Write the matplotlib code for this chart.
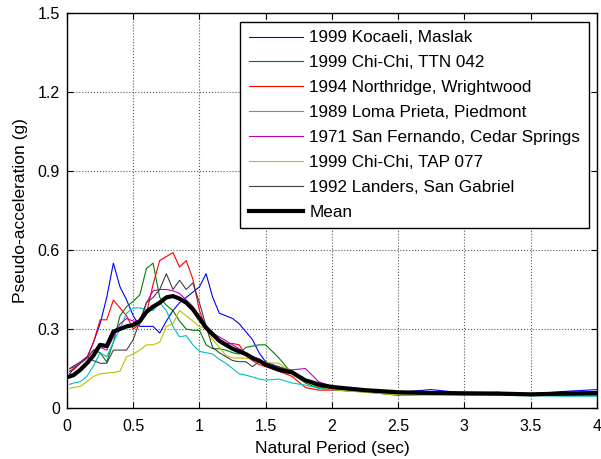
import matplotlib
matplotlib.use("Agg")
import matplotlib.pyplot as plt

plt.rcParams['font.family'] = ['Liberation Sans', 'DejaVu Sans']
plt.rcParams['font.size'] = 11.5

# natural periods (sec)
T = [0.02, 0.05, 0.10, 0.15, 0.20, 0.25, 0.30, 0.35, 0.40, 0.45, 0.50,
     0.55, 0.60, 0.65, 0.70, 0.75, 0.80, 0.85, 0.90, 0.95, 1.00, 1.05,
     1.10, 1.15, 1.20, 1.25, 1.30, 1.35, 1.40, 1.45, 1.50, 1.60, 1.70,
     1.80, 1.90, 2.00, 2.25, 2.50, 2.75, 3.00, 3.25, 3.50, 3.75, 4.00]

kocaeli = [0.13, 0.15, 0.17, 0.19, 0.25, 0.32, 0.42, 0.55, 0.46, 0.41, 0.35,
           0.31, 0.31, 0.31, 0.285, 0.33, 0.37, 0.40, 0.42, 0.44, 0.46, 0.51,
           0.42, 0.36, 0.35, 0.34, 0.32, 0.29, 0.26, 0.21, 0.175, 0.155, 0.14,
           0.105, 0.085, 0.075, 0.065, 0.06, 0.07, 0.057, 0.055, 0.053, 0.063, 0.07]
chichi_ttn = [0.14, 0.15, 0.17, 0.19, 0.22, 0.21, 0.175, 0.25, 0.35, 0.385, 0.405,
              0.43, 0.53, 0.55, 0.42, 0.39, 0.37, 0.33, 0.30, 0.295, 0.295, 0.24,
              0.225, 0.225, 0.22, 0.21, 0.205, 0.23, 0.235, 0.24, 0.24, 0.19, 0.13,
              0.095, 0.075, 0.07, 0.063, 0.058, 0.055, 0.055, 0.055, 0.047, 0.05, 0.052]
northridge = [0.14, 0.145, 0.17, 0.19, 0.25, 0.335, 0.335, 0.41, 0.38, 0.35, 0.30,
              0.32, 0.36, 0.47, 0.56, 0.575, 0.59, 0.535, 0.56, 0.49, 0.37, 0.30,
              0.28, 0.26, 0.245, 0.245, 0.24, 0.20, 0.18, 0.165, 0.157, 0.14, 0.12,
              0.078, 0.068, 0.068, 0.062, 0.048, 0.052, 0.053, 0.06, 0.05, 0.052, 0.05]
loma = [0.09, 0.095, 0.10, 0.12, 0.16, 0.21, 0.195, 0.25, 0.30, 0.36, 0.38,
        0.38, 0.375, 0.37, 0.40, 0.37, 0.31, 0.27, 0.275, 0.24, 0.215, 0.21,
        0.205, 0.185, 0.17, 0.15, 0.13, 0.125, 0.118, 0.11, 0.106, 0.11, 0.095,
        0.087, 0.075, 0.07, 0.06, 0.05, 0.05, 0.05, 0.048, 0.047, 0.045, 0.045]
san_fernando = [0.15, 0.155, 0.17, 0.19, 0.22, 0.23, 0.22, 0.27, 0.32, 0.34, 0.33,
                0.33, 0.40, 0.445, 0.45, 0.45, 0.445, 0.435, 0.41, 0.385, 0.35, 0.31,
                0.285, 0.27, 0.255, 0.24, 0.225, 0.21, 0.195, 0.175, 0.165, 0.15, 0.145,
                0.15, 0.10, 0.08, 0.07, 0.06, 0.055, 0.05, 0.052, 0.05, 0.05, 0.05]
chichi_tap = [0.075, 0.078, 0.082, 0.10, 0.12, 0.13, 0.133, 0.135, 0.14, 0.195, 0.205,
              0.22, 0.24, 0.24, 0.25, 0.31, 0.32, 0.37, 0.35, 0.33, 0.31, 0.30,
              0.26, 0.23, 0.20, 0.19, 0.19, 0.189, 0.185, 0.176, 0.172, 0.17, 0.135,
              0.10, 0.08, 0.07, 0.06, 0.05, 0.052, 0.05, 0.053, 0.05, 0.055, 0.055]
landers = [0.15, 0.16, 0.175, 0.195, 0.18, 0.17, 0.17, 0.22, 0.22, 0.22, 0.26,
           0.33, 0.40, 0.42, 0.45, 0.51, 0.45, 0.485, 0.45, 0.475, 0.40, 0.31,
           0.23, 0.21, 0.195, 0.18, 0.176, 0.176, 0.157, 0.176, 0.17, 0.157, 0.14,
           0.105, 0.08, 0.075, 0.065, 0.055, 0.055, 0.052, 0.052, 0.05, 0.05, 0.05]
mean = [0.12, 0.125, 0.145, 0.17, 0.20, 0.24, 0.235, 0.29, 0.30, 0.31, 0.315,
        0.33, 0.365, 0.385, 0.40, 0.42, 0.425, 0.415, 0.40, 0.375, 0.34, 0.305,
        0.28, 0.255, 0.24, 0.225, 0.215, 0.205, 0.19, 0.18, 0.165, 0.145, 0.135,
        0.105, 0.09, 0.08, 0.068, 0.06, 0.057, 0.056, 0.055, 0.052, 0.055, 0.057]

records = [kocaeli, chichi_ttn, northridge, loma, san_fernando, chichi_tap, landers]
labels = ['1999 Kocaeli, Maslak', '1999 Chi-Chi, TTN 042', '1994 Northridge, Wrightwood',
          '1989 Loma Prieta, Piedmont', '1971 San Fernando, Cedar Springs',
          '1999 Chi-Chi, TAP 077', '1992 Landers, San Gabriel']
colors = [(0, 0, 1), (0, 0.5, 0), (1, 0, 0), (0, 0.75, 0.75),
          (0.75, 0, 0.75), (0.75, 0.75, 0), (0.25, 0.25, 0.25)]

fig = plt.figure(figsize=(6.01, 4.59), dpi=100)
ax = fig.add_axes([0.1115, 0.111, 0.8815, 0.861])

for sa, lab, c in zip(records, labels, colors):
    ax.plot(T, sa, color=c, lw=0.8, label=lab)
ax.plot(T, mean, color='k', lw=3, label='Mean')

ax.set_xlim(0, 4)
ax.set_ylim(0, 1.5)
ax.set_xticks([0, 0.5, 1, 1.5, 2, 2.5, 3, 3.5, 4])
ax.set_xticklabels(['0', '0.5', '1', '1.5', '2', '2.5', '3', '3.5', '4'])
ax.set_yticks([0, 0.3, 0.6, 0.9, 1.2, 1.5])
ax.set_yticklabels(['0', '0.3', '0.6', '0.9', '1.2', '1.5'])
ax.grid(True, ls=':', color='0.35', lw=0.8)
ax.tick_params(direction='in', top=True, right=True, length=4, labelsize=11.5)
ax.tick_params(axis='x', pad=8)
ax.tick_params(axis='y', pad=5)
for s in ax.spines.values():
    s.set_linewidth(1.0)
ax.set_xlabel('Natural Period (sec)', fontsize=12.5, labelpad=5)
ax.set_ylabel('Pseudo-acceleration (g)', fontsize=12.5, labelpad=7)

leg = ax.legend(loc='upper right', bbox_to_anchor=(0.985, 0.977), borderaxespad=0,
                fancybox=False, framealpha=1, edgecolor='k', fontsize=12.3,
                handlelength=3.2, handletextpad=0.35, labelspacing=0.58,
                borderpad=0.5)
leg.get_frame().set_linewidth(1.0)

fig.savefig('out.png', dpi=100)
